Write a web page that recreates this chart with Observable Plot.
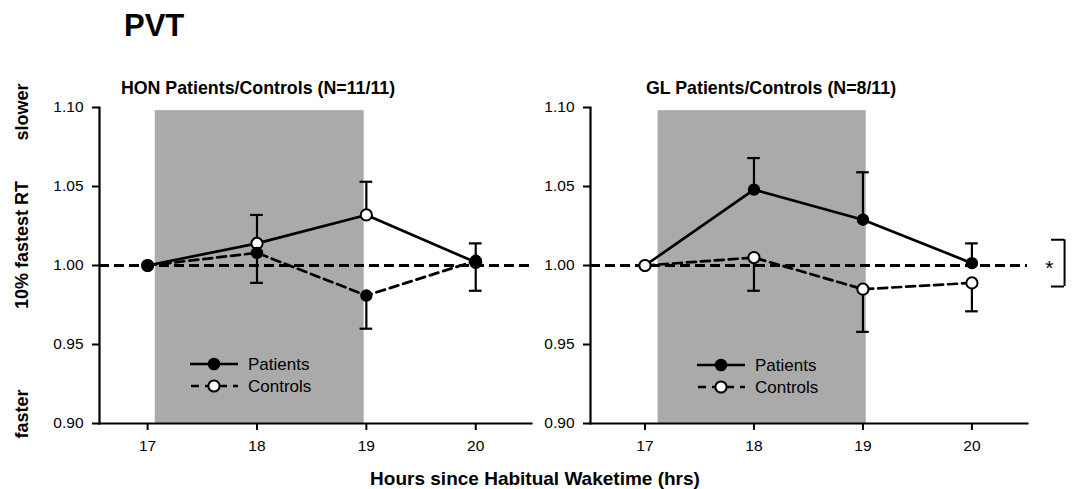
<!DOCTYPE html>
<html><head><meta charset="utf-8">
<script src="https://cdn.jsdelivr.net/npm/d3@7"></script>
<script src="https://cdn.jsdelivr.net/npm/@observablehq/plot@0.6"></script>
<style>
body{margin:0;background:#fff;font-family:"Liberation Sans",Arial,sans-serif;}
#wrap{position:relative;width:1072px;height:489px;overflow:hidden;background:#fff;}
.abs{position:absolute;white-space:nowrap;color:#000;line-height:1;}
.b{font-weight:bold;}
svg.plot{position:absolute;top:0;}
svg.plot g[aria-label$="tick label"], svg.plot g[aria-label$="tick label"] text{font-size:15.5px !important;fill:#000;}
.rot{transform:translate(-50%,-50%) rotate(-90deg);}
.leg{position:absolute;font-size:17px;line-height:1;}
.leg div{display:flex;align-items:center;height:22px;}
.leg svg{margin-right:10px;}
</style></head><body><div id="wrap"></div>
<script>
// ---- data ----
const hours = [17, 18, 19, 20];
const yTicks = [0.90, 0.95, 1.00, 1.05, 1.10];
// HON panel
const honPatients    = [1.000, 1.008, 0.981, 1.003];
const honPatientsErr = [0,     0.019, 0.021, 0.019];
const honControls    = [1.000, 1.014, 1.032, 1.002];
const honControlsErr = [0,     0.018, 0.021, 0.012];
// GL panel
const glPatients    = [1.000, 1.048, 1.029, 1.0015];
const glPatientsErr = [0,     0.020, 0.030, 0.0125];
const glControls    = [1.000, 1.005, 0.985, 0.989];
const glControlsErr = [0,     0.021, 0.027, 0.018];
// shaded intervals (hours)
const shadeHon = [17.07, 18.98];
const shadeGl  = [17.12, 19.03];
const shadeTop = 1.098;
const refValue = 1.0;
const sigBracket = [0.9867, 1.0163];
const panelTitles = ["HON Patients/Controls (N=11/11)", "GL Patients/Controls (N=8/11)"];
const seriesNames = ["Patients", "Controls"];

const FONT = '"Liberation Sans", Arial, sans-serif';
const wrap = document.getElementById("wrap");

const panels = [
  {left: 0, width: 560, marginLeft: 99, marginRight: 29, xDomain: [16.56, 20.51], shade: shadeHon,
   series: [
     {values: honControls, err: honControlsErr, filled: false, dashed: false, dir: 1},
     {values: honPatients, err: honPatientsErr, filled: true,  dashed: true,  dir: -1}
   ]},
  {left: 560, width: 512, marginLeft: 30, marginRight: 45, xDomain: [16.5, 20.51], shade: shadeGl, bracket: true,
   series: [
     {values: glPatients, err: glPatientsErr, filled: true,  dashed: false, dir: 1},
     {values: glControls, err: glControlsErr, filled: false, dashed: true,  dir: -1}
   ]}
];

const capHalf = 0.058;

panels.forEach(p => {
  const marks = [];
  marks.push(Plot.rect([p.shade], {x1: d => d[0], x2: d => d[1], y1: () => yTicks[0], y2: () => shadeTop, fill: "#aaaaaa"}));
  marks.push(Plot.ruleY([refValue], {x1: () => p.xDomain[0], x2: () => p.xDomain[1], stroke: "#000", strokeWidth: 2.8, strokeDasharray: "10,5"}));
  const sets = p.series.map(s => hours.map((h, i) => ({x: h, y: s.values[i], e: s.err[i]})));
  p.series.forEach((s, k) => {
    const eb = sets[k].filter(d => d.e > 0);
    marks.push(Plot.ruleX(eb, {x: "x", y1: "y", y2: d => d.y + s.dir * d.e, stroke: "#000", strokeWidth: 2.2}));
    marks.push(Plot.ruleY(eb, {y: d => d.y + s.dir * d.e, x1: d => d.x - capHalf, x2: d => d.x + capHalf, stroke: "#000", strokeWidth: 2.2}));
  });
  p.series.forEach((s, k) => {
    marks.push(Plot.line(sets[k], {x: "x", y: "y", stroke: "#000", strokeWidth: 2.7, strokeDasharray: s.dashed ? "9,5" : null}));
  });
  p.series.forEach((s, k) => {
    marks.push(Plot.dot(sets[k], {x: "x", y: "y", r: s.filled ? 5.5 : 5.6, fill: s.filled ? "#000" : "#fff", stroke: "#000", strokeWidth: s.filled ? 1.4 : 2}));
  });
  if (p.bracket) {
    marks.push(Plot.ruleX([20.85], {y1: () => sigBracket[0], y2: () => sigBracket[1], stroke: "#000", strokeWidth: 2}));
    marks.push(Plot.ruleY(sigBracket, {y: d => d, x1: () => 20.73, x2: () => 20.85, stroke: "#000", strokeWidth: 2}));
    marks.push(Plot.text(["*"], {x: () => 20.71, y: () => refValue, text: d => d, fontSize: 21, fill: "#000", dy: 3}));
  }
  marks.push(Plot.frame({anchor: "left", stroke: "#000", strokeWidth: 2.2}));
  marks.push(Plot.frame({anchor: "bottom", stroke: "#000", strokeWidth: 2.2}));
  marks.push(Plot.axisY({ticks: yTicks, tickFormat: d3.format(".2f"), tickSize: 7, tickPadding: 9, fontSize: 15.5, strokeWidth: 2, label: null}));
  marks.push(Plot.axisX({ticks: hours, tickFormat: d => String(d), tickSize: 7, tickPadding: 9, fontSize: 15.5, strokeWidth: 2, label: null}));

  const svg = Plot.plot({
    width: p.width, height: 489,
    marginLeft: p.marginLeft, marginRight: p.marginRight, marginTop: 107, marginBottom: 66,
    x: {domain: p.xDomain},
    y: {domain: [yTicks[0], yTicks[yTicks.length - 1]]},
    style: {fontFamily: FONT, fontSize: "15.5px", color: "#000", background: "transparent", overflow: "visible"},
    marks
  });
  svg.classList.add("plot");
  svg.style.left = p.left + "px";
  wrap.appendChild(svg);
});

function addText(txt, x, capMid, size, bold, anchor, extraClass) {
  const d = document.createElement("div");
  d.className = "abs" + (bold ? " b" : "") + (extraClass ? " " + extraClass : "");
  d.textContent = txt;
  d.style.fontSize = size + "px";
  const top = capMid - (0.8465 - 0.358) * size;
  d.style.top = top + "px";
  d.style.left = x + "px";
  if (anchor === "middle") d.style.transform = "translateX(-50%)";
  wrap.appendChild(d);
  return d;
}

addText("PVT", 124, 25, 31, true, "start");
addText(panelTitles[0], 258, 88.5, 17.8, true, "middle");
addText(panelTitles[1], 771, 88.5, 17.8, true, "middle");
addText("Hours since Habitual Waketime (hrs)", 535, 478, 19, true, "middle");

function addRot(txt, cx, cy, size) {
  const d = document.createElement("div");
  d.className = "abs b rot";
  d.textContent = txt;
  d.style.fontSize = size + "px";
  d.style.left = cx + "px";
  d.style.top = cy + "px";
  wrap.appendChild(d);
}
addRot("slower", 22, 112, 18);
addRot("10% fastest RT", 22, 245, 18);
addRot("faster", 22, 414, 18);

// legends
function legend(x, y) {
  const box = document.createElement("div");
  box.className = "leg";
  box.style.left = x + "px";
  box.style.top = y + "px";
  const rows = [
    {name: seriesNames[0], filled: true, dash: null},
    {name: seriesNames[1], filled: false, dash: "9,5"}
  ];
  rows.forEach(r => {
    const row = document.createElement("div");
    const sw = d3.create("svg").attr("width", 48).attr("height", 22);
    sw.append("line").attr("x1", 0).attr("x2", 48).attr("y1", 11).attr("y2", 11)
      .attr("stroke", "#000").attr("stroke-width", 2.7).attr("stroke-dasharray", r.dash ? "8,6" : null).attr("stroke-dashoffset", r.dash ? -1 : null);
    sw.append("circle").attr("cx", 24).attr("cy", 11).attr("r", 5.6)
      .attr("fill", r.filled ? "#000" : "#fff").attr("stroke", "#000").attr("stroke-width", r.filled ? 1.4 : 2);
    row.appendChild(sw.node());
    const t = document.createElement("span");
    t.textContent = r.name;
    row.appendChild(t);
    box.appendChild(row);
  });
  wrap.appendChild(box);
}
legend(190, 353);
legend(697, 354);
</script>
</body></html>
